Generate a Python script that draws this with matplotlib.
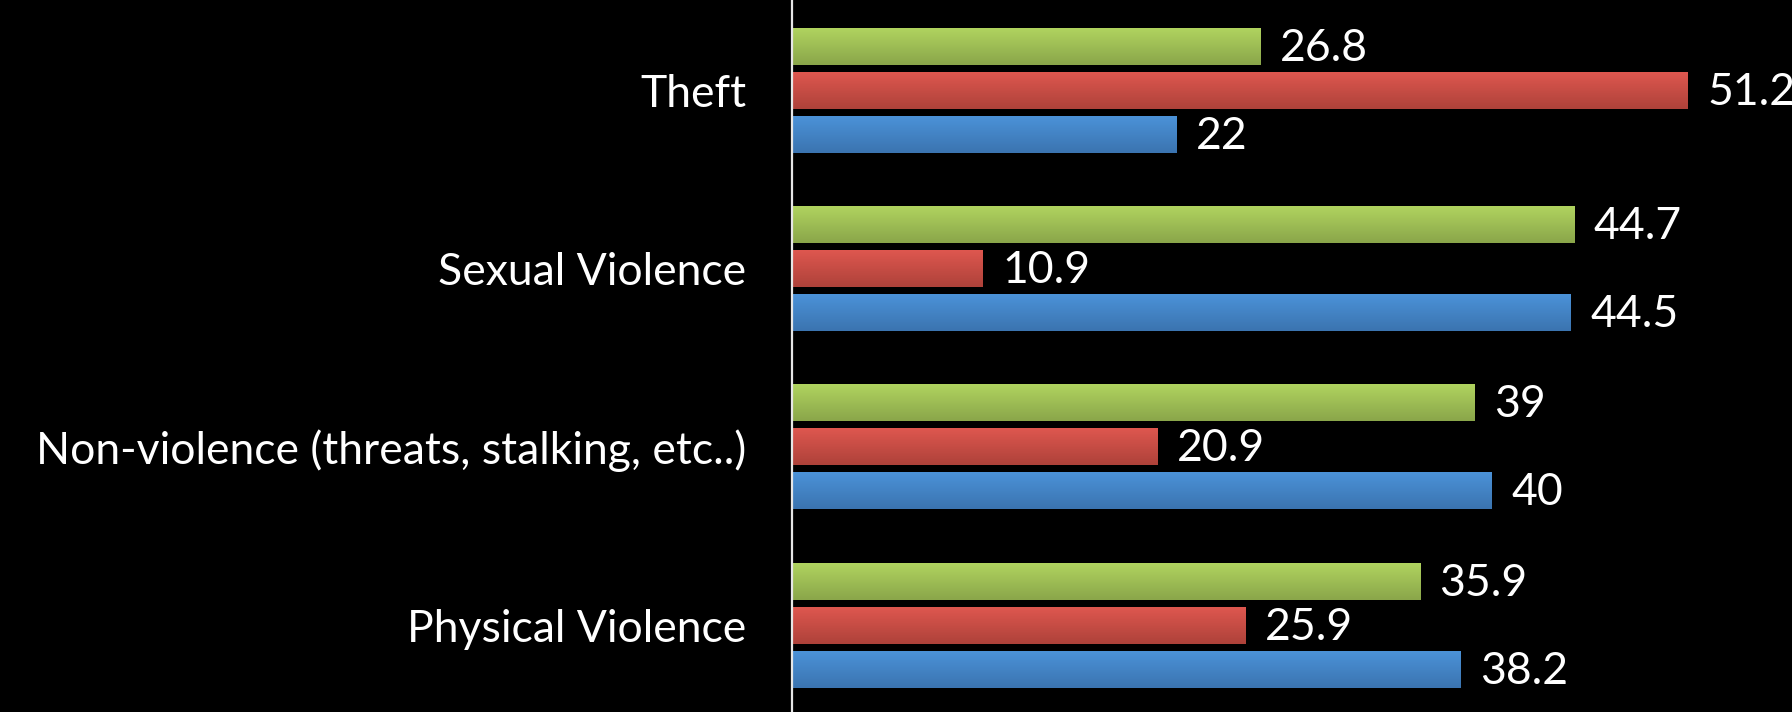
import matplotlib.pyplot as plt
import numpy as np
from matplotlib.colors import LinearSegmentedColormap

plt.rcParams['font.family'] = ['Lato', 'DejaVu Sans']

categories = ['Physical Violence', 'Non-violence (threats, stalking, etc..)',
              'Sexual Violence', 'Theft']
# three series per category, drawn top to bottom: green, red, blue
series_green = [35.9, 39, 44.7, 26.8]
series_red = [25.9, 20.9, 10.9, 51.2]
series_blue = [38.2, 40, 44.5, 22]
value_labels_green = ['35.9', '39', '44.7', '26.8']
value_labels_red = ['25.9', '20.9', '10.9', '51.2']
value_labels_blue = ['38.2', '40', '44.5', '22']

# (top colour, bottom colour) for the vertical gradient of each series
grad_green = ('#b0d35f', '#8aa64a')
grad_red = ('#de574f', '#ae423a')
grad_blue = ('#4b92d8', '#3b74b0')

fig = plt.figure(figsize=(17.92, 7.12), dpi=100, facecolor='black')
ax = fig.add_axes([792 / 1792, -0.0037, 1000 / 1792, 1.0022])
ax.set_facecolor('black')

y = np.arange(len(categories))
pitch = 0.2466
height = 0.2056

series = [
    (series_green, value_labels_green, grad_green, pitch),
    (series_red, value_labels_red, grad_red, 0.0),
    (series_blue, value_labels_blue, grad_blue, -pitch),
]

for values, labels, (top, bottom), offset in series:
    bars = ax.barh(y + offset, values, height=height, color=top, linewidth=0, zorder=2)
    cmap = LinearSegmentedColormap.from_list('g', [bottom, top])
    grad = np.linspace(0, 1, 64).reshape(-1, 1)
    for bar, label in zip(bars, labels):
        x0, y0 = bar.get_x(), bar.get_y()
        w, h = bar.get_width(), bar.get_height()
        ax.imshow(grad, cmap=cmap, origin='lower', aspect='auto', zorder=3,
                  extent=(x0, x0 + w, y0, y0 + h), interpolation='bilinear')
        ax.text(x0 + w + 1.1, y0 + h / 2 - 0.01, label, color='white', fontsize=32,
                va='center', ha='left', zorder=4, clip_on=False)

ax.set_xlim(0, 1000 / 17.5)
ax.set_ylim(-0.5, 3.5)
ax.set_yticks(y)
ax.set_yticklabels(categories, color='white', fontsize=32)
for lbl in ax.get_yticklabels():
    lbl.set_verticalalignment('center_baseline')
ax.tick_params(axis='y', length=0, pad=33)
ax.set_xticks([])
for side in ['top', 'right', 'bottom']:
    ax.spines[side].set_visible(False)
ax.spines['left'].set_color('#e6e6e6')
ax.spines['left'].set_linewidth(1.6)
ax.spines['left'].set_zorder(5)

fig.savefig('out.png', dpi=100, facecolor='black')
